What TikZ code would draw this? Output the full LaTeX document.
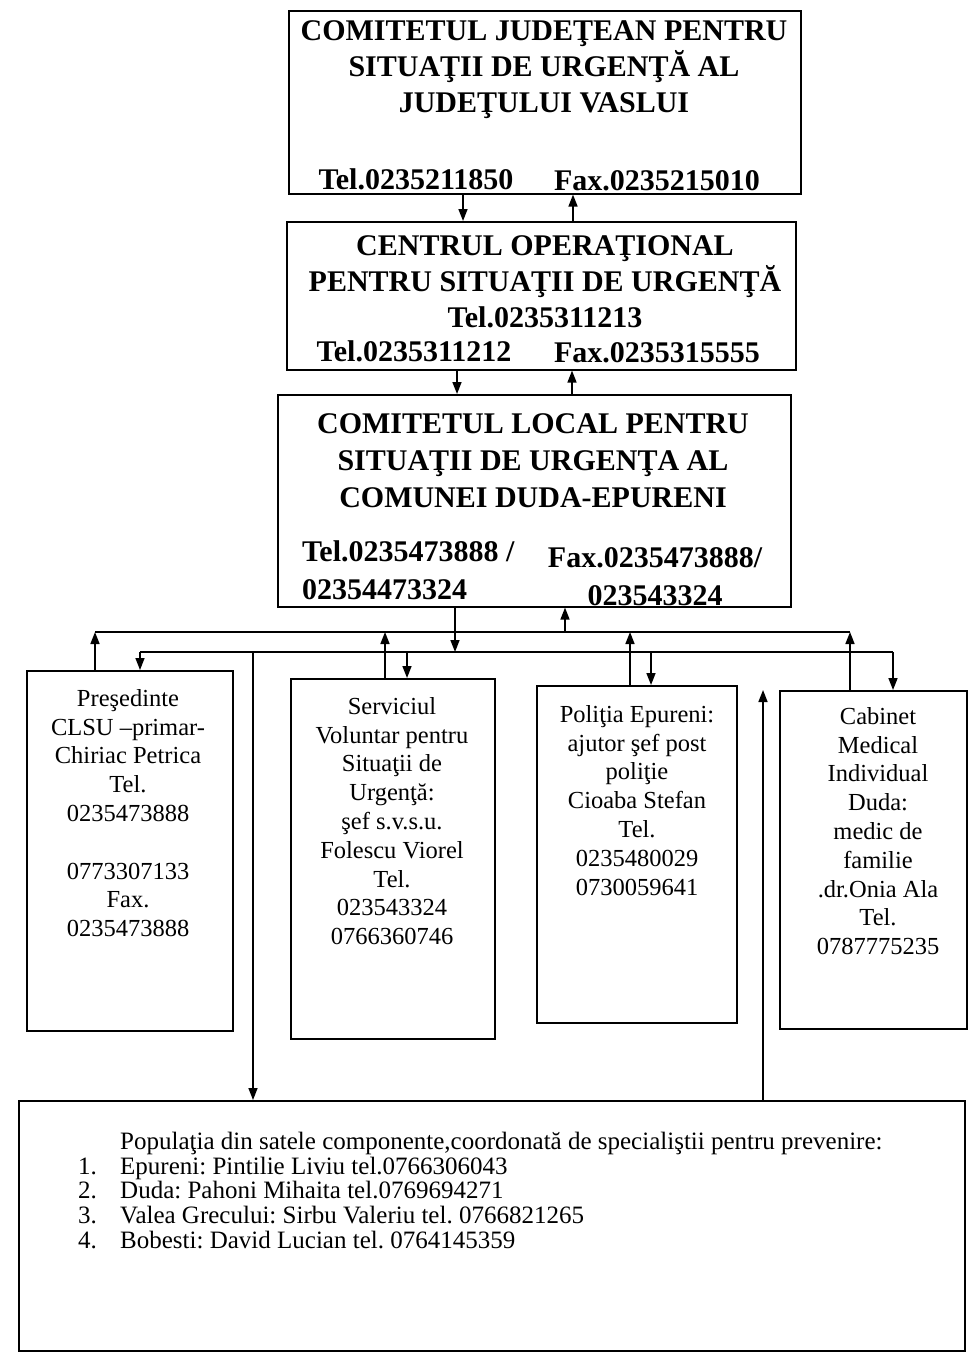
\documentclass[tikz,border=0pt]{standalone}
\usepackage{fontspec}
\setmainfont{Liberation Serif}[BoldFont={Liberation Serif Bold}]
\usetikzlibrary{arrows.meta,calc}
\frenchspacing
\begin{document}
\begin{tikzpicture}[x=1pt,y=-1pt,
  box/.style={draw, line width=1.6pt, inner sep=0pt, anchor=north west},
  big/.style={font=\fontsize{30}{36}\selectfont\bfseries, inner sep=0pt, align=center, anchor=north},
  small/.style={font=\fontsize{24.5}{28.8}\selectfont, inner sep=0pt, align=center, anchor=north},
  arr/.style={line width=1.6pt, -{Triangle[length=12pt,width=9pt]}},
  ln/.style={line width=1.6pt}]
\useasboundingbox (0,0) rectangle (967,1367);
% boxes
\node[box, minimum width=512pt, minimum height=183pt] (T) at (288,10) {};
\node[box, minimum width=509pt, minimum height=148pt] (O) at (286,221) {};
\node[box, minimum width=513pt, minimum height=212pt] (L) at (277,394) {};
\node[box, minimum width=206pt, minimum height=360pt] (A) at (26,670) {};
\node[box, minimum width=204pt, minimum height=360pt] (B) at (290,678) {};
\node[box, minimum width=200pt, minimum height=337pt] (C) at (536,685) {};
\node[box, minimum width=187pt, minimum height=338pt] (D) at (779,690) {};
\node[box, minimum width=946pt, minimum height=250pt] (P) at (18,1100) {};
% texts
\node[big] (Tt) at (544,20) {COMITETUL JUDEŢEAN PENTRU\\SITUAŢII DE URGENŢĂ AL\\JUDEŢULUI VASLUI};
\node[big] (Ttel) at (416,168) {Tel.0235211850};
\node[big] (Tfax) at (657,170) {Fax.0235215010};
\node[big] (Ot) at (545,235) {CENTRUL OPERAŢIONAL\\PENTRU SITUAŢII DE URGENŢĂ\\Tel.0235311213};
\node[big] (Otel) at (414,340) {Tel.0235311212};
\node[big] (Ofax) at (657,342) {Fax.0235315555};
\node[big, font=\fontsize{30}{37}\selectfont\bfseries] (Lt) at (533,413) {COMITETUL LOCAL PENTRU\\SITUAŢII DE URGENŢA AL\\COMUNEI DUDA-EPURENI};
\node[big, anchor=north west, align=left, font=\fontsize{30}{38}\selectfont\bfseries] (Ltel) at (302,540) {Tel.0235473888 /\\02354473324};
\node[big, font=\fontsize{30}{38}\selectfont\bfseries] (Lfax) at (655,547) {Fax.0235473888/\\023543324};
\node[small] (At) at (128,689) {Preşedinte\\CLSU –primar-\\Chiriac Petrica\\Tel.\\0235473888\\[28.8pt]0773307133\\Fax.\\0235473888};
\node[small] (Bt) at (392,697) {Serviciul\\Voluntar pentru\\Situaţii de\\Urgenţă:\\şef s.v.s.u.\\Folescu Viorel\\Tel.\\023543324\\0766360746};
\node[small] (Ct) at (637,705) {Poliţia Epureni:\\ajutor şef post\\poliţie\\Cioaba Stefan\\Tel.\\0235480029\\0730059641};
\node[small] (Dt) at (878,707) {Cabinet\\Medical\\Individual\\Duda:\\medic de\\familie\\.dr.Onia Ala\\Tel.\\0787775235};
\node[anchor=north west, inner sep=0pt, font=\fontsize{25}{24.3}\selectfont] (Pt) at (78,1132)
 {\begin{tabular}{@{}p{42pt}@{}l@{}}
 & Populaţia din satele componente,coordonată de specialiştii pentru prevenire:\\
 1. & Epureni: Pintilie Liviu tel.0766306043\\
 2. & Duda: Pahoni Mihaita tel.0769694271\\
 3. & Valea Grecului: Sirbu Valeriu tel. 0766821265\\
 4. & Bobesti: David Lucian tel. 0764145359
 \end{tabular}};
% connectors between top boxes
\draw[arr] (T.south -| 463,0) -- (O.north -| 463,0);
\draw[arr] (O.north -| 573,0) -- (T.south -| 573,0);
\draw[arr] (O.south -| 457,0) -- (L.north -| 457,0);
\draw[arr] (L.north -| 572,0) -- (O.south -| 572,0);
% buses
\coordinate (ubL) at (95,632);
\coordinate (ubR) at (850,632);
\coordinate (lbL) at (140,652);
\coordinate (lbR) at (893,652);
\coordinate (fe) at (763,690);
\draw[ln] (ubL) -- (ubR);
\draw[ln] (lbL) -- (lbR);
\draw[arr] (A.north -| ubL) -- (ubL);
\draw[arr] (B.north -| 385,0) -- (385,0 |- ubL);
\draw[arr] (C.north -| 630,0) -- (630,0 |- ubL);
\draw[arr] (D.north -| ubR) -- (ubR);
\draw[arr] (565,0 |- ubL) -- (L.south -| 565,0);
\draw[arr] (L.south -| 455,0) -- (455,0 |- lbL);
\draw[arr] (lbL) -- (A.north -| lbL);
\draw[arr] (407,0 |- lbL) -- (B.north -| 407,0);
\draw[arr] (651,0 |- lbL) -- (C.north -| 651,0);
\draw[arr] (lbR) -- (D.north -| lbR);
\draw[arr] (253,0 |- lbL) -- (P.north -| 253,0);
\draw[arr] (P.north -| fe) -- (fe);
\end{tikzpicture}
\end{document}
